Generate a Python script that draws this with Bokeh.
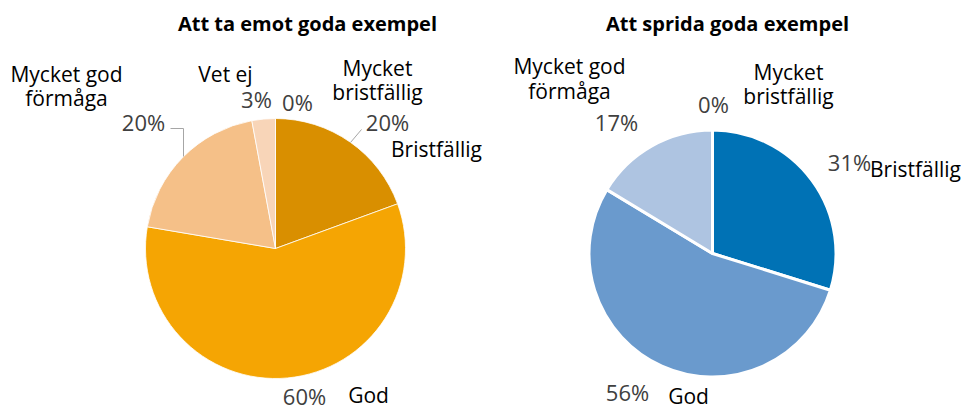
import math
from bokeh.plotting import figure
from bokeh.models import Range1d, ColumnDataSource
from bokeh.core.properties import value
from bokeh.embed import file_html
from bokeh.resources import INLINE

# ---- data ----
left_title = "Att ta emot goda exempel"
left_categories = ["Mycket bristfällig", "Bristfällig", "God", "Mycket god förmåga", "Vet ej"]
left_values = [0, 20, 60, 20, 3]
left_colors = ["#b36b00", "#d98f00", "#f5a503", "#f5c088", "#f8d5b8"]

right_title = "Att sprida goda exempel"
right_categories = ["Mycket bristfällig", "Bristfällig", "God", "Mycket god förmåga"]
right_values = [0, 31, 56, 17]
right_colors = ["#004f80", "#0072b5", "#6a9acd", "#aec4e1"]

W, H = 963, 412
FONT = "Open Sans"
DY = 7  # renderer baseline correction


def X(px):
    return px


def Y(py):
    return H - py


p = figure(width=W, height=H, output_backend="svg", toolbar_location=None,
           x_range=Range1d(0, W), y_range=Range1d(0, H), min_border=0)
p.axis.visible = False
p.grid.visible = False
p.outline_line_color = None
p.background_fill_color = "white"


def pie(cx, cy, r, values, colors, lw):
    total = float(sum(values))
    cum = 0.0
    xs, ys, sa, ea, cols = [], [], [], [], []
    for v, c in zip(values, colors):
        if v > 0:
            a0 = math.pi / 2 - 2 * math.pi * (cum + v) / total
            a1 = math.pi / 2 - 2 * math.pi * cum / total
            xs.append(X(cx)); ys.append(Y(cy)); sa.append(a0); ea.append(a1); cols.append(c)
        cum += v
    src = ColumnDataSource(dict(x=xs, y=ys, s=sa, e=ea, c=cols))
    p.wedge(x="x", y="y", radius=r, start_angle="s", end_angle="e", fill_color="c",
            line_color="white", line_width=lw, source=src)


pie(275, 248, 130, left_values, left_colors, 0.8)
pie(712, 253, 123.5, right_values, right_colors, 3)


def txt(cx, base, s, size, color="#000000", bold=False):
    p.text(x=[X(cx)], y=[Y(base - DY)], text=[s], text_align="center", text_baseline="alphabetic",
           text_font=value(FONT), text_font_size=f"{size}px", text_color=color,
           text_font_style="bold" if bold else "normal")


PCT = "#404040"
PS = 22
CS = 21

# titles
txt(307, 30, left_title, 20, bold=True)
txt(727, 30, right_title, 20, bold=True)

# left labels
lv = dict(zip(left_categories, left_values))
txt(66, 80, "Mycket god", CS); txt(66, 104, "förmåga", CS)
txt(143, 128, f"{lv['Mycket god förmåga']}%", PS, PCT)
txt(225, 80, "Vet ej", CS)
txt(256, 105, f"{lv['Vet ej']}%", PS, PCT)
txt(297, 108, f"{lv['Mycket bristfällig']}%", PS, PCT)
txt(377, 74, "Mycket", CS); txt(377, 98, "bristfällig", CS)
txt(387, 128, f"{lv['Bristfällig']}%", PS, PCT)
txt(436, 155, "Bristfällig", CS)
txt(304, 402, f"{lv['God']}%", PS, PCT)
txt(368, 401, "God", CS)

# left leader lines
p.line(x=[X(350), X(361)], y=[Y(142), Y(129)], line_color="#a6a6a6", line_width=1)
p.line(x=[X(170), X(183), X(183)], y=[Y(128), Y(128), Y(156)], line_color="#a6a6a6", line_width=1)

# right labels
rv = dict(zip(right_categories, right_values))
txt(569, 72, "Mycket god", CS); txt(569, 97, "förmåga", CS)
txt(616, 128, f"{rv['Mycket god förmåga']}%", PS, PCT)
txt(713, 110, f"{rv['Mycket bristfällig']}%", PS, PCT)
txt(788, 78, "Mycket", CS); txt(788, 102, "bristfällig", CS)
txt(849, 168, f"{rv['Bristfällig']}%", PS, PCT)
txt(915, 175, "Bristfällig", CS)
txt(627, 398, f"{rv['God']}%", PS, PCT)
txt(688, 402, "God", CS)

open("out.html", "w").write(file_html(p, INLINE))
